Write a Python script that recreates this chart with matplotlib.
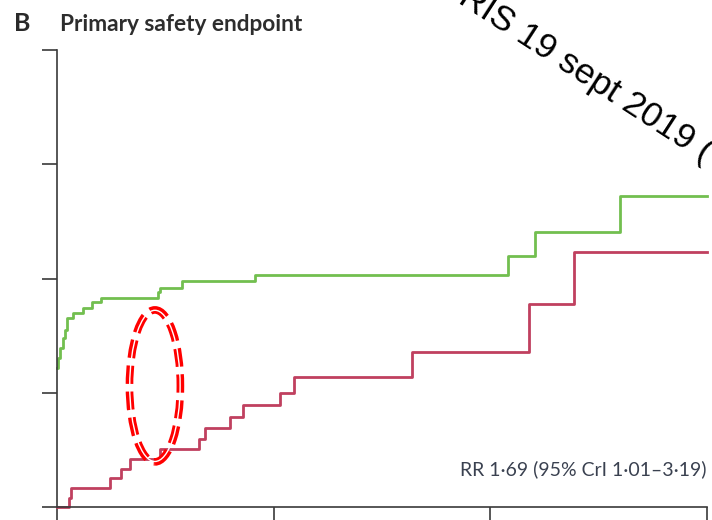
import matplotlib
matplotlib.use("Agg")
import matplotlib.pyplot as plt
import matplotlib.patches as patches

# cumulative incidence (%) by day
GREEN_DAYS = [0, 0.05, 0.14, 0.28, 0.37, 0.46, 0.74, 1.2, 1.62, 2.03,
              4.66, 4.75, 5.77, 9.14, 20.8, 22.06, 26.0, 30]
GREEN_VALS = [1.22, 1.30, 1.39, 1.48, 1.55, 1.65, 1.70, 1.74, 1.79, 1.83,
              1.88, 1.92, 1.98, 2.03, 2.20, 2.41, 2.72, 2.72]

RED_DAYS = [0, 0.55, 0.65, 2.45, 2.95, 3.37, 4.75, 6.55, 6.83, 7.98,
            8.58, 10.3, 10.94, 16.38, 21.78, 23.86, 30]
RED_VALS = [0.0, 0.08, 0.166, 0.254, 0.33, 0.42, 0.51, 0.595, 0.69, 0.79,
            0.89, 1.0, 1.14, 1.36, 1.78, 2.23, 2.23]

X_TICKS = [0, 10, 20, 30]
Y_TICKS = [0, 1, 2, 3, 4]

PANEL = "B"
TITLE = "Primary safety endpoint"
RR_TEXT = "RR 1·69 (95% CrI 1·01–3·19)"
STAMP = "RIS 19 sept 2019 ("

# hand-drawn highlight around the early gap (day, %)
HIGHLIGHT_CENTER = (4.52, 1.06)
HIGHLIGHT_SIZE = (2.35, 1.33)

GREEN = "#72bf4f"
RED = "#c0405f"
AXIS = "#3a3a3a"

fig = plt.figure(figsize=(7.12, 5.2), dpi=100)
ax = fig.add_axes([57 / 712, 1 - 507 / 520, 650 / 712, 457 / 520])

ax.step(RED_DAYS, RED_VALS, where="post", color=RED, linewidth=2, clip_on=False)
ax.step(GREEN_DAYS, GREEN_VALS, where="post", color=GREEN, linewidth=2, clip_on=False)

ax.set_xlim(0, 30)
ax.set_ylim(0, 4)
ax.set_xticks(X_TICKS)
ax.set_yticks(Y_TICKS)
ax.set_xticklabels([])
ax.set_yticklabels([])
ax.tick_params(direction="out", length=11, width=1.2, color=AXIS)
for side in ["top", "right"]:
    ax.spines[side].set_visible(False)
for side in ["left", "bottom"]:
    ax.spines[side].set_color(AXIS)
    ax.spines[side].set_linewidth(1.2)

# dashed double-line ellipse
ell = patches.Ellipse(HIGHLIGHT_CENTER, HIGHLIGHT_SIZE[0], HIGHLIGHT_SIZE[1],
                      facecolor="none", edgecolor="red", linewidth=5.5,
                      linestyle=(0, (2.4, 1.0)), clip_on=False, zorder=5)
ax.add_patch(ell)
inner = patches.Ellipse(HIGHLIGHT_CENTER, HIGHLIGHT_SIZE[0] * 0.99, HIGHLIGHT_SIZE[1] * 0.995,
                        facecolor="none", edgecolor="white", linewidth=1.0,
                        clip_on=False, zorder=6)
ax.add_patch(inner)

ax.text(30, 0.28, RR_TEXT, ha="right", va="baseline", fontsize=14,
        family=["Lato", "DejaVu Sans"], color="#3a4150")

fig.text(14 / 712, 1 - 31 / 520, PANEL, fontsize=18, fontweight="bold",
         family=["Lato", "DejaVu Sans"], color="#2a2a2a", va="baseline")
fig.text(60 / 712, 1 - 31 / 520, TITLE, fontsize=16.3, fontweight="bold",
         family=["Lato", "DejaVu Sans"], color="#2d2d2d", va="baseline")

fig.text(457 / 712, 1 - 2 / 520, STAMP, fontsize=25.5, rotation=-33,
         rotation_mode="anchor", ha="left", va="baseline",
         family=["Liberation Sans", "DejaVu Sans"], color="black")

fig.savefig("out.png", dpi=100)
